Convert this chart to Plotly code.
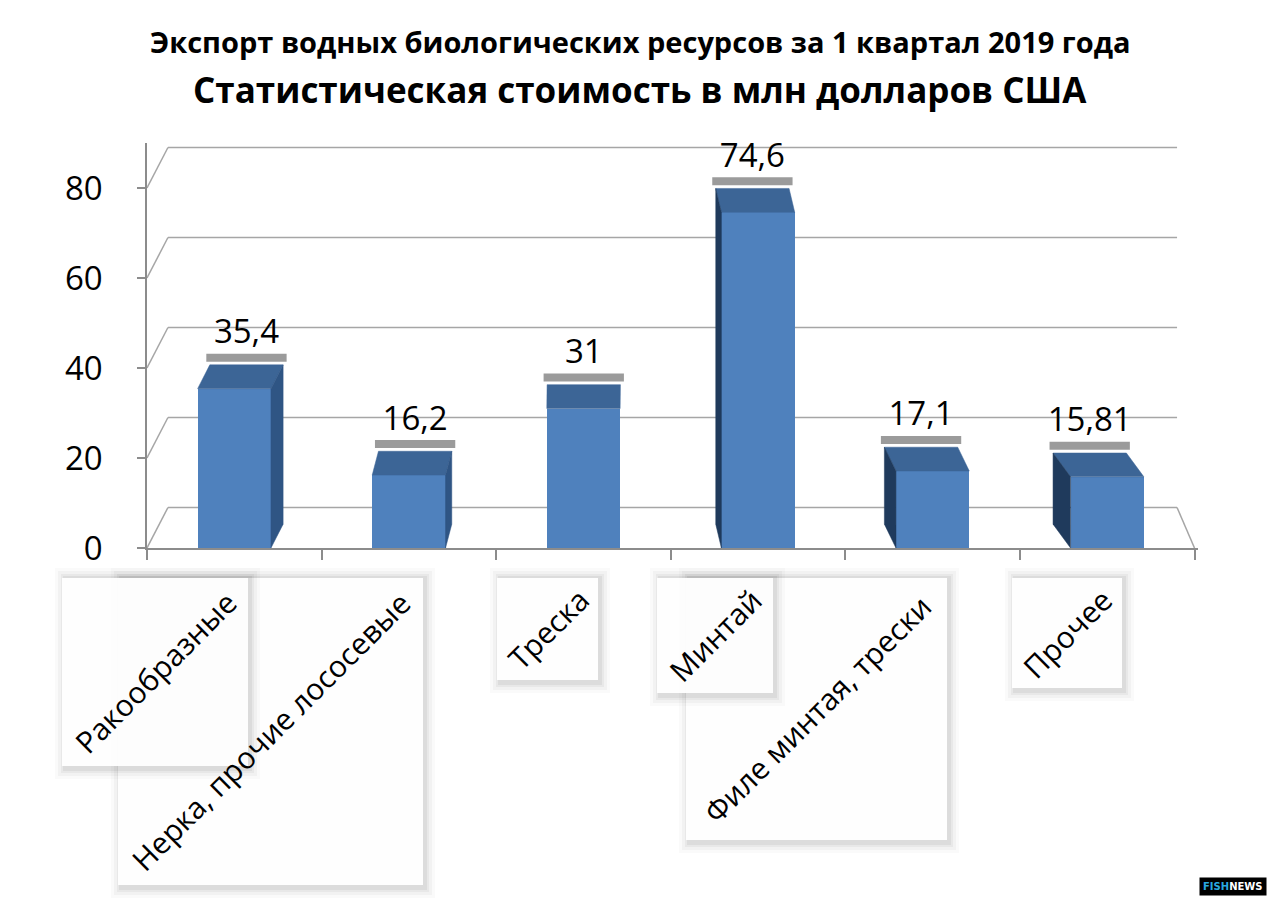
import plotly.graph_objects as go

# data
categories = [
    "Ракообразные",
    "Нерка, прочие лососевые",
    "Треска",
    "Минтай",
    "Филе минтая, трески",
    "Прочее",
]
values = [35.4, 16.2, 31, 74.6, 17.1, 15.81]
value_labels = ["35,4", "16,2", "31", "74,6", "17,1", "15,81"]
y_ticks = [0, 20, 40, 60, 80]

title_top = "Экспорт водных биологических ресурсов за 1 квартал 2019 года"
title_sub = "Статистическая стоимость в млн долларов США"

FONT = "Open Sans"

# screen geometry (px); the page body adds an 8px offset
SCREEN_W, SCREEN_H = 1280, 906
OFF = 8
PLOT_X0, PLOT_X1 = 147, 1198
PLOT_Y0, PLOT_Y1 = 143, 548
X_MAX = 6.02
Y_MAX = 90

FIG_W, FIG_H = SCREEN_W - OFF, SCREEN_H - OFF
M_L, M_T = PLOT_X0 - OFF, PLOT_Y0 - OFF
M_R, M_B = SCREEN_W - PLOT_X1, SCREEN_H - PLOT_Y1

# fake 3d look
BAR_W = 0.42
DEPTH_Y = 5.3
VANISH_X = 2.55
SLANT = 0.034
WALL_DX = 0.12
WALL_DY = 9
BACK_RIGHT = 5.9
FRONT_COLOR = "#4f81bd"
TOP_COLOR = "#3c6596"
SIDE_R_COLOR = "#2f5584"
SIDE_L_COLOR = "#1f3a5c"
GRID_COLOR = "#a6a6a6"
AXIS_COLOR = "#8c8c8c"

# white label boxes under the axis, screen px (x0, y0, x1, y1), same order as categories
label_boxes = [
    (62, 578, 248, 766),
    (118, 578, 423, 885),
    (497, 578, 598, 680),
    (657, 578, 773, 693),
    (686, 578, 947, 840),
    (1012, 578, 1122, 688),
]
box_draw_order = [1, 4, 0, 2, 3, 5]

plot_w = PLOT_X1 - PLOT_X0
plot_h = PLOT_Y1 - PLOT_Y0


def px_x(px):
    return (px - PLOT_X0) / plot_w


def px_y(py):
    return (PLOT_Y1 - py) / plot_h


xs = [i + 0.5 for i in range(len(categories))]
shifts = [(VANISH_X - x) * SLANT for x in xs]

fig = go.Figure()

# front faces
fig.add_trace(
    go.Bar(
        x=xs,
        y=values,
        width=BAR_W,
        marker=dict(color=FRONT_COLOR, line=dict(width=0)),
        hoverinfo="skip",
    )
)

# top and side faces
for x, v, dx in zip(xs, values, shifts):
    left, right = x - BAR_W / 2, x + BAR_W / 2
    fig.add_trace(
        go.Scatter(
            x=[left, right, right + dx, left + dx, left],
            y=[v, v, v + DEPTH_Y, v + DEPTH_Y, v],
            fill="toself", mode="lines",
            fillcolor=TOP_COLOR, line=dict(width=0.5, color=TOP_COLOR),
            hoverinfo="skip",
        )
    )
    if abs(dx) < 0.004:
        continue
    edge = right if dx > 0 else left
    color = SIDE_R_COLOR if dx > 0 else SIDE_L_COLOR
    fig.add_trace(
        go.Scatter(
            x=[edge, edge, edge + dx, edge + dx, edge],
            y=[0, v, v + DEPTH_Y, DEPTH_Y, 0],
            fill="toself", mode="lines",
            fillcolor=color, line=dict(width=0.5, color=color),
            hoverinfo="skip",
        )
    )

# grey strips above the bars
strip_x, strip_y = [], []
for x, v, dx in zip(xs, values, shifts):
    strip_x += [x - BAR_W / 2 + dx - 0.02, x + BAR_W / 2 + dx + 0.02, None]
    strip_y += [v + DEPTH_Y + 1.6, v + DEPTH_Y + 1.6, None]
fig.add_trace(
    go.Scatter(
        x=strip_x, y=strip_y, mode="lines",
        line=dict(color="#9b9b9b", width=8), hoverinfo="skip",
    )
)

# value labels
fig.add_trace(
    go.Scatter(
        x=[x + dx for x, dx in zip(xs, shifts)],
        y=[v + DEPTH_Y + 3.0 for v in values],
        mode="text",
        text=value_labels,
        textposition="top center",
        textfont=dict(family=FONT, size=33, color="black"),
        hoverinfo="skip",
    )
)

shapes = []
# back wall grid and left wall diagonals
for t in y_ticks:
    shapes.append(dict(
        type="line", xref="x", yref="y", layer="below",
        x0=WALL_DX, x1=BACK_RIGHT, y0=t + WALL_DY, y1=t + WALL_DY,
        line=dict(color=GRID_COLOR, width=1.5),
    ))
    shapes.append(dict(
        type="line", xref="x", yref="y", layer="below",
        x0=0, x1=WALL_DX, y0=t, y1=t + WALL_DY,
        line=dict(color=GRID_COLOR, width=1.5),
    ))
# right edge of the floor
shapes.append(dict(
    type="line", xref="x", yref="y", layer="below",
    x0=6, x1=BACK_RIGHT, y0=0, y1=WALL_DY,
    line=dict(color=GRID_COLOR, width=1.5),
))

# label boxes with a soft shadow
for i in box_draw_order:
    x0, y0, x1, y1 = label_boxes[i]
    for k, alpha in [(10, 0.02), (7, 0.03), (4, 0.04), (2, 0.05)]:
        shapes.append(dict(
            type="rect", xref="paper", yref="paper", layer="above",
            x0=px_x(x0 - k + 3), x1=px_x(x1 + k + 2),
            y0=px_y(y1 + k + 3), y1=px_y(y0 - k),
            fillcolor=f"rgba(0,0,0,{alpha})", line=dict(width=0),
        ))
    shapes.append(dict(
        type="rect", xref="paper", yref="paper", layer="above",
        x0=px_x(x0), x1=px_x(x1), y0=px_y(y1), y1=px_y(y0),
        fillcolor="rgba(255,255,255,0.95)", line=dict(width=0),
    ))

annotations = [
    dict(
        text=f"<b>{title_top}</b>", xref="paper", yref="paper",
        x=px_x(640), y=px_y(41), xanchor="center", yanchor="middle",
        showarrow=False, font=dict(family=FONT, size=29, color="black"),
    ),
    dict(
        text=f"<b>{title_sub}</b>", xref="paper", yref="paper",
        x=px_x(640), y=px_y(89), xanchor="center", yanchor="middle",
        showarrow=False, font=dict(family=FONT, size=35, color="black"),
    ),
]
for name, (x0, y0, x1, y1) in zip(categories, label_boxes):
    annotations.append(dict(
        text=name, xref="paper", yref="paper",
        x=px_x((x0 + x1) / 2), y=px_y((y0 + y1) / 2),
        xanchor="center", yanchor="middle",
        showarrow=False, textangle=-45,
        font=dict(family=FONT, size=30, color="black"),
    ))
annotations.append(dict(
    text='<b><span style="color:#2aa9e0">FISH</span>NEWS</b>',
    xref="paper", yref="paper", x=px_x(1233), y=px_y(886),
    xanchor="center", yanchor="middle",
    showarrow=False, bgcolor="black", borderpad=3,
    font=dict(family="DejaVu Sans", size=10, color="white"),
))

fig.update_layout(
    width=FIG_W,
    height=FIG_H,
    margin=dict(l=M_L, r=M_R, t=M_T, b=M_B),
    paper_bgcolor="white",
    plot_bgcolor="white",
    showlegend=False,
    bargap=0,
    xaxis=dict(
        range=[0, X_MAX],
        tickmode="array",
        tickvals=list(range(7)),
        ticktext=[""] * 7,
        ticks="outside",
        ticklen=10,
        tickcolor=AXIS_COLOR,
        tickwidth=1.5,
        showline=True,
        linecolor=AXIS_COLOR,
        linewidth=1.5,
        showgrid=False,
        zeroline=False,
        fixedrange=True,
    ),
    yaxis=dict(
        range=[0, Y_MAX],
        tickmode="array",
        tickvals=y_ticks,
        ticks="outside",
        ticklen=8,
        tickcolor=AXIS_COLOR,
        tickwidth=1.5,
        ticklabelstandoff=28,
        showline=True,
        linecolor=AXIS_COLOR,
        linewidth=1.5,
        showgrid=False,
        zeroline=False,
        tickfont=dict(family=FONT, size=33, color="black"),
        fixedrange=True,
    ),
    shapes=shapes,
    annotations=annotations,
)

fig.write_html("out.html")
